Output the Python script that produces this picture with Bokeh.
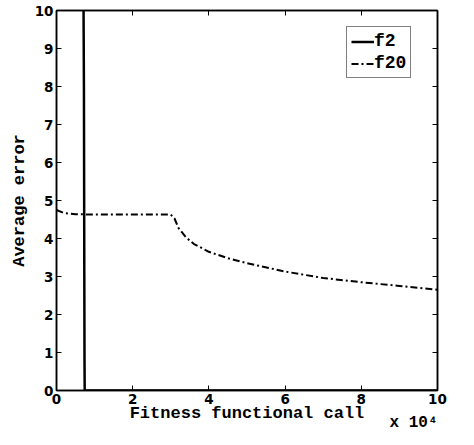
import math
from bokeh.plotting import figure
from bokeh.models import LinearAxis, Range1d, Title, Legend, LegendItem, FixedTicker
from bokeh.embed import file_html
from bokeh.resources import INLINE

# data (x in units of 1e4 fitness calls)
f2_x = [0.70, 0.72, 0.73, 0.735, 0.74, 10.0]
f2_y = [12.0, 8.0, 3.0, 0.8, 0.0, 0.0]
f20_x = [0.0, 0.2, 0.5, 1.0, 2.0, 3.0, 3.1, 3.2, 3.4, 3.6, 4.0, 4.5, 5.0, 6.0, 7.0, 8.0, 9.0, 10.0]
f20_y = [4.75, 4.67, 4.64, 4.63, 4.63, 4.63, 4.52, 4.28, 4.03, 3.86, 3.65, 3.48, 3.35, 3.13, 2.96, 2.85, 2.75, 2.65]
x_ticks = [0, 2, 4, 6, 8, 10]
y_ticks = [0, 1, 2, 3, 4, 5, 6, 7, 8, 9, 10]

p = figure(width=458, height=429, output_backend="svg", toolbar_location=None,
           x_range=Range1d(0, 10), y_range=Range1d(0, 10),
           min_border_left=56, min_border_right=21, min_border_top=10, min_border_bottom=39)
p.grid.visible = False
p.outline_line_color = "black"
p.outline_line_width = 1.5
p.background_fill_color = "white"

for ax in [p.xaxis[0], p.yaxis[0]]:
    ax.major_tick_in = 5
    ax.major_tick_out = 0
    ax.minor_tick_line_color = None
    ax.axis_line_width = 1.5
    ax.major_label_text_font = "DejaVu Sans"
    ax.major_label_text_font_style = "bold"
    ax.major_label_text_font_size = "13.5px"
    ax.major_label_text_color = "black"
    ax.axis_label_text_font = "Liberation Mono"
    ax.axis_label_text_font_style = "bold"
    ax.axis_label_text_font_size = "17px"
    ax.axis_label_text_color = "black"
p.xaxis[0].ticker = FixedTicker(ticks=x_ticks)
p.yaxis[0].ticker = FixedTicker(ticks=y_ticks)
p.xaxis[0].major_label_standoff = 3
p.yaxis[0].major_label_standoff = 3
p.xaxis[0].axis_label = "Fitness functional call"
p.xaxis[0].axis_label_standoff = -3
p.yaxis[0].axis_label = "Average error"
p.yaxis[0].axis_label_standoff = 3

top = LinearAxis(ticker=FixedTicker(ticks=x_ticks),
                 major_label_overrides={t: "" for t in x_ticks},
                 major_tick_in=5, major_tick_out=0, minor_tick_line_color=None, axis_line_width=1.5)
right = LinearAxis(ticker=FixedTicker(ticks=y_ticks),
                   major_label_overrides={t: "" for t in y_ticks},
                   major_tick_in=5, major_tick_out=0, minor_tick_line_color=None, axis_line_width=1.5)
top.major_label_standoff = 0
right.major_label_standoff = 0
p.add_layout(top, "above")
p.add_layout(right, "right")

r1 = p.line(f2_x, f2_y, line_color="black", line_width=2.5)
r2 = p.line(f20_x, f20_y, line_color="black", line_width=2, line_dash="7 3 2 3")

legend = Legend(items=[LegendItem(label="f2", renderers=[r1]), LegendItem(label="f20", renderers=[r2])],
                location=(290, 312))
legend.label_text_font = "Liberation Mono"
legend.label_text_font_style = "bold"
legend.label_text_font_size = "18px"
legend.label_text_color = "black"
legend.border_line_color = "black"
legend.border_line_width = 1
legend.margin = 0
legend.padding = 4
legend.spacing = 2
legend.glyph_width = 23
legend.label_standoff = 0
legend.label_height = 19
legend.glyph_height = 19
p.add_layout(legend)

# exponent of the x axis
expo = Title(text="x 10\u2074", align="right", offset=0, standoff=-24, vertical_align="top",
             text_font="Liberation Mono", text_font_style="bold", text_font_size="16px",
             text_color="black")
p.add_layout(expo, "below")

open("out.html", "w").write(file_html(p, INLINE))
